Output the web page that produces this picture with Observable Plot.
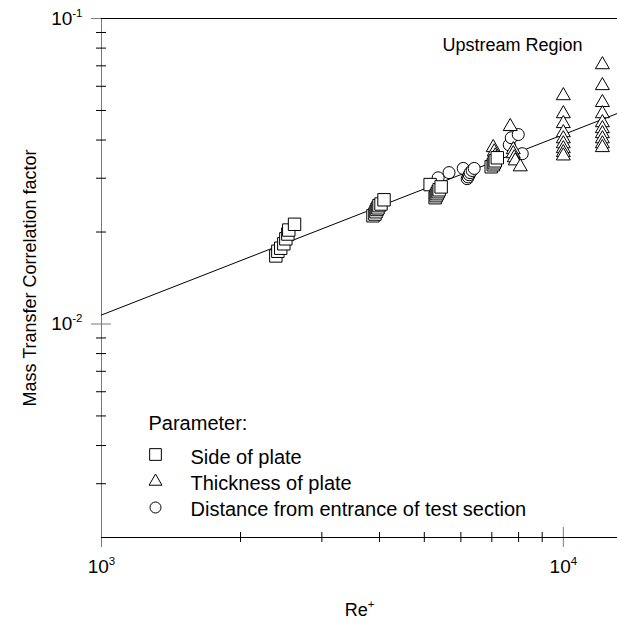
<!DOCTYPE html>
<html><head><meta charset="utf-8">
<script src="https://cdn.jsdelivr.net/npm/d3@7"></script>
<script src="https://cdn.jsdelivr.net/npm/@observablehq/plot@0.6"></script>
<style>body{margin:0;background:#fff;}</style>
</head><body><div id="chart"></div>
<script>
// ---- data ----
const squareRe = [2385, 2409, 2444, 2482, 2507, 2532, 2544, 2618,
                  3871, 3909, 3930, 3950, 3969, 3989, 4029, 4090,
                  5147, 5277, 5303, 5330, 5357, 5383, 5438,
                  6979, 7050, 7086, 7122, 7194];
const squareF  = [0.0167, 0.0173, 0.0177, 0.0183, 0.0190, 0.0197, 0.0203, 0.0212,
                  0.0226, 0.0229, 0.0233, 0.0237, 0.0240, 0.0244, 0.0247, 0.0255,
                  0.0286, 0.0259, 0.0263, 0.0267, 0.0271, 0.0275, 0.0281,
                  0.0327, 0.0332, 0.0337, 0.0342, 0.0350];
const triRe = [7674, 7050, 7086, 7122, 7158, 7791, 7791, 7830, 7869, 8067,
               10000, 10000, 10000, 10000, 10000, 10000, 10000, 10000, 10000,
               12150, 12150, 12150, 12150, 12150, 12150, 12150, 12150, 12150, 12150];
const triF  = [0.0443, 0.0378, 0.0366, 0.0355, 0.0348, 0.0372, 0.0361, 0.0350, 0.0342, 0.0327,
               0.0559, 0.0488, 0.0453, 0.0423, 0.0404, 0.0389, 0.0375, 0.0364, 0.0355,
               0.0706, 0.0603, 0.0531, 0.0488, 0.0456, 0.0436, 0.0420, 0.0404, 0.0389, 0.0378];
const circRe = [5357, 5656, 6070, 6192, 6223, 6254, 6284, 6347, 6412,
                7636, 7713, 7987, 8148];
const circF  = [0.0301, 0.0313, 0.0323, 0.0299, 0.0303, 0.0308, 0.0313, 0.0318, 0.0323,
                0.0386, 0.0407, 0.0417, 0.0361];
const fitRe = [1000, 13100];
const fitF  = [0.0107, 0.0489];

const majorX = [1000, 10000];
const majorXLabels = ["10^3", "10^4"];
const minorX = [2000, 3000, 4000, 5000, 6000, 7000, 8000, 9000];
const majorY = [0.01, 0.1];
const majorYLabels = ["10^-2", "10^-1"];
const minorY = [0.003, 0.004, 0.005, 0.006, 0.007, 0.008, 0.009,
                0.02, 0.03, 0.04, 0.05, 0.06, 0.07, 0.08, 0.09];

const xTitle = "Re^+";
const yTitle = "Mass Transfer Correlation factor";
const regionLabel = "Upstream Region";
const legendTitle = "Parameter:";
const legendSymbols = ["square", "triangle", "circle"];
const legendLabels = ["Side of plate", "Thickness of plate", "Distance from entrance of test section"];

// ---- build ----
const toRows = (xs, ys) => xs.map((x, i) => ({x, y: ys[i]}));
const squares = toRows(squareRe, squareF);
const triangles = toRows(triRe, triF);
const circles = toRows(circRe, circF);
const fit = toRows(fitRe, fitF);

const gray = "#7a7a7a";
const legendSymDy = [436, 463, 489];
const legendTextDy = [439, 465, 491];
const legendR = {square: 6.6, triangle: 4.8, circle: 5.5};

const svg = Plot.plot({
  width: 617, height: 625,
  marginLeft: 101, marginRight: 0, marginTop: 18, marginBottom: 88,
  x: {type: "log", domain: [1000, 13100]},
  y: {type: "log", domain: [0.002, 0.1]},
  style: {fontFamily: "'Liberation Sans', Arial, sans-serif", fontSize: "19px", background: "white", color: "black", overflow: "visible"},
  marks: [
    Plot.ruleX([1000], {stroke: gray}),
    Plot.axisX({ticks: majorX, tickSize: 20, dy: -10, stroke: gray, fill: "none", label: null}),
    Plot.axisX({ticks: minorX, tickSize: 10, dy: -5, stroke: "black", fill: "none", label: null}),
    Plot.axisX({ticks: majorX, tickSize: 0, tickPadding: 22, tickFormat: d => majorXLabels[majorX.indexOf(d)], label: null}),
    Plot.axisY({ticks: majorY, tickSize: 20, dx: 10, stroke: gray, fill: "none", label: null}),
    Plot.axisY({ticks: minorY, tickSize: 10, dx: 5, stroke: "black", fill: "none", label: null}),
    Plot.axisY({ticks: majorY, tickSize: 0, tickPadding: 19, tickFormat: d => majorYLabels[majorY.indexOf(d)], label: null}),
    Plot.ruleY([0.1], {stroke: "black"}),
    Plot.ruleY([0.002], {stroke: "black"}),
    Plot.line(fit, {x: "x", y: "y", stroke: "black", strokeWidth: 1}),
    Plot.dot(circles, {x: "x", y: "y", symbol: "circle", r: 6, fill: "white", stroke: "black", strokeWidth: 1}),
    Plot.dot(triangles, {x: "x", y: "y", symbol: "triangle", r: 5.2, fill: "white", stroke: "black", strokeWidth: 1}),
    Plot.dot(squares, {x: "x", y: "y", symbol: "square", r: 7, fill: "white", stroke: "black", strokeWidth: 1}),
    Plot.text([regionLabel], {frameAnchor: "top-right", dx: -35, dy: 27, textAnchor: "end", lineAnchor: "middle", fontSize: 18}),
    Plot.text([legendTitle], {frameAnchor: "top-left", dx: 47, dy: 405, textAnchor: "start", lineAnchor: "middle", fontSize: 20}),
    ...legendSymbols.map((s, i) => Plot.dot([s], {frameAnchor: "top-left", dx: 54, dy: legendSymDy[i], symbol: s, r: legendR[s], fill: "white", stroke: "black", strokeWidth: 1})),
    ...legendLabels.map((t, i) => Plot.text([t], {frameAnchor: "top-left", dx: 89, dy: legendTextDy[i], textAnchor: "start", lineAnchor: "middle", fontSize: 20})),
    Plot.text([yTitle], {frameAnchor: "left", dx: -71, rotate: -90, textAnchor: "middle", lineAnchor: "middle", fontSize: 18}),
    Plot.text([xTitle], {frameAnchor: "bottom", dy: 73, textAnchor: "middle", lineAnchor: "middle", fontSize: 18})
  ]
});

// render "a^b" as a superscript
const NS = "http://www.w3.org/2000/svg";
svg.querySelectorAll("text").forEach(t => {
  const targets = t.querySelectorAll("tspan").length ? [...t.querySelectorAll("tspan")] : [t];
  targets.forEach(el => {
    const m = el.textContent.match(/^(.*)\^(.+)$/);
    if (!m) return;
    el.textContent = m[1];
    const sup = document.createElementNS(NS, "tspan");
    sup.setAttribute("dy", "-8");
    sup.setAttribute("font-size", "11.5");
    sup.textContent = m[2];
    el.appendChild(sup);
  });
});
document.getElementById("chart").appendChild(svg);
</script>
</body></html>
